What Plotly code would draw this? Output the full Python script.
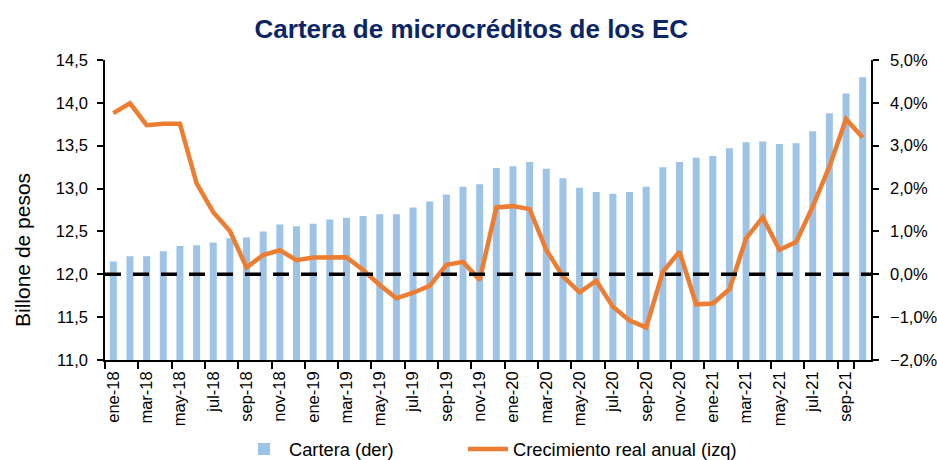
import plotly.graph_objects as go

month_names = ["ene", "feb", "mar", "abr", "may", "jun", "jul", "ago", "sep", "oct", "nov", "dic"]
years = ["18", "19", "20", "21"]
meses = [f"{m}-{y}" for y in years for m in month_names][:46]

cartera = [12.15, 12.21, 12.21, 12.27, 12.33, 12.34, 12.37, 12.42, 12.43, 12.50,
           12.58, 12.56, 12.59, 12.64, 12.66, 12.68, 12.70, 12.70, 12.78, 12.85,
           12.93, 13.02, 13.05, 13.24, 13.26, 13.31, 13.23, 13.12, 13.01, 12.96,
           12.94, 12.96, 13.02, 13.25, 13.31, 13.36, 13.38, 13.47, 13.54, 13.55,
           13.52, 13.53, 13.67, 13.88, 14.11, 14.30]

crecimiento = [3.76, 3.99, 3.48, 3.51, 3.51, 2.12, 1.45, 1.01, 0.16, 0.45,
               0.56, 0.33, 0.39, 0.39, 0.40, 0.10, -0.25, -0.56, -0.43, -0.27,
               0.22, 0.29, -0.13, 1.56, 1.59, 1.52, 0.57, -0.05, -0.42, -0.15,
               -0.76, -1.08, -1.24, 0.06, 0.53, -0.70, -0.68, -0.35, 0.84, 1.33,
               0.57, 0.75, 1.58, 2.51, 3.62, 3.19]

tick_labels = meses[::2]

BAR_COLOR = "#9DC3E6"
LINE_COLOR = "#ED7D31"
TITLE_COLOR = "#0B2566"
FONT = "Liberation Sans, Arial, sans-serif"

fig = go.Figure()
fig.add_trace(go.Bar(x=meses, y=cartera, name="Cartera (der)",
                     marker=dict(color=BAR_COLOR, line=dict(width=0)), yaxis="y",
                     legend="legend", showlegend=True))
fig.add_trace(go.Scatter(x=meses, y=crecimiento, name="Crecimiento real anual (izq)",
                         mode="lines", line=dict(color=LINE_COLOR, width=4.5), yaxis="y2",
                         legend="legend2", showlegend=True))

fig.add_shape(type="line", xref="paper", x0=0, x1=1, yref="y", y0=12, y1=12,
              line=dict(color="black", width=3.5, dash="16px,12px"), layer="above")

legend_common = dict(orientation="h", xanchor="left", y=-0.297, yanchor="middle",
                     font=dict(family=FONT, size=18.3), bgcolor="rgba(0,0,0,0)",
                     itemwidth=40)

fig.update_layout(
    width=937, height=460,
    showlegend=True,
    margin=dict(l=105, r=66, t=60, b=100, autoexpand=False),
    paper_bgcolor="white", plot_bgcolor="white",
    separators=",.",
    bargap=0.58,
    font=dict(family=FONT, size=16, color="black"),
    title=dict(text="<b>Cartera de microcréditos de los EC</b>",
               font=dict(family=FONT, size=26, color=TITLE_COLOR),
               x=0.503, xref="container", xanchor="center",
               y=1 - 29 / 460, yref="container", yanchor="middle"),
    xaxis=dict(type="category", tickmode="array", tickvals=tick_labels, ticktext=tick_labels,
               tickson="boundaries", tickangle=-90, ticks="outside", ticklen=7,
               tickwidth=1.5, tickcolor="black", showline=True, linecolor="black",
               linewidth=1.5, showgrid=False, tickfont=dict(size=16.5),
               range=[-0.5, 45.5], automargin=False, ticklabelstandoff=3),
    yaxis=dict(range=[11, 14.5], dtick=0.5, tickformat=".1f", ticks="outside", ticklen=6,
               tickwidth=1.5, tickcolor="black", showline=True, linecolor="black",
               linewidth=1.5, showgrid=False, zeroline=False, tickfont=dict(size=16.5),
               ticklabelstandoff=6, automargin=False),
    yaxis2=dict(range=[-2, 5], dtick=1, tickformat=".1f", ticksuffix="%", overlaying="y",
                side="right", ticks="outside", ticklen=6, tickwidth=1.5, tickcolor="black",
                showline=True, linecolor="black", linewidth=1.5, showgrid=False,
                zeroline=False, tickfont=dict(size=16.5), ticklabelstandoff=8,
                automargin=False),
    legend=dict(x=(239 - 105) / 766, **legend_common),
    legend2=dict(x=(463 - 105) / 766, **legend_common),
    annotations=[dict(text="Billone de pesos", xref="paper", yref="paper",
                      x=(22 - 105) / 766, y=(360 - 250) / 300, textangle=-90,
                      showarrow=False, font=dict(family=FONT, size=21, color="black"),
                      xanchor="center", yanchor="middle")],
)

fig.write_html("out.html", post_script="document.body.style.margin='0';",
               config={"displayModeBar": False})
